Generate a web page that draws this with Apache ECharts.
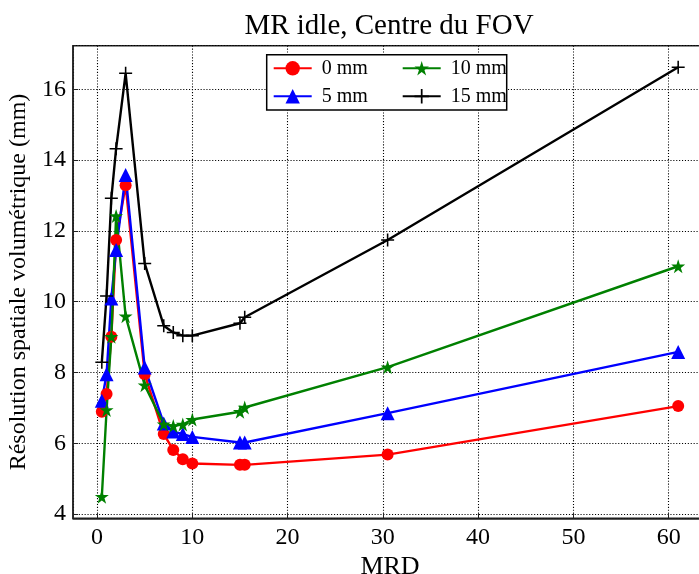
<!DOCTYPE html>
<html>
<head>
<meta charset="utf-8">
<script src="https://cdn.jsdelivr.net/npm/echarts@6/dist/echarts.min.js"></script>
<style>html,body{margin:0;padding:0;background:#fff}#c{width:699px;height:574px}</style>
</head>
<body>
<div id="c"></div>
<script>
const mrd = [0.5, 1, 1.5, 2, 3, 5, 7, 8, 9, 10, 15, 15.5, 30.5, 61];
const res0mm  = [6.89, 7.39, 9.01, 11.74, 13.29, 7.95, 6.26, 5.81, 5.55, 5.43, 5.39, 5.39, 5.68, 7.05];
const res5mm  = [7.20, 7.95, 10.09, 11.46, 13.58, 8.14, 6.56, 6.33, 6.26, 6.18, 6.02, 6.02, 6.85, 8.58];
const res10mm = [4.49, 6.94, 9.01, 12.42, 9.59, 7.64, 6.54, 6.49, 6.53, 6.67, 6.89, 7.01, 8.15, 11.00];
const res15mm = [8.29, 10.16, 12.92, 14.32, 16.45, 11.08, 9.32, 9.13, 9.04, 9.04, 9.39, 9.56, 11.74, 16.62];
const seriesNames = ['0 mm', '5 mm', '10 mm', '15 mm'];

const FONT = 'Liberation Serif';
const STAR = 'path://M0,-1 L0.223,-0.307 L0.951,-0.309 L0.361,0.117 L0.588,0.809 L0,0.38 L-0.588,0.809 L-0.361,0.117 L-0.951,-0.309 L-0.223,-0.307 Z';
const PLUS = 'path://M-0.12,-1 L0.12,-1 L0.12,-0.12 L1,-0.12 L1,0.12 L0.12,0.12 L0.12,1 L-0.12,1 L-0.12,0.12 L-1,0.12 L-1,-0.12 L-0.12,-0.12 Z';

function pairs(ys) { return mrd.map((x, i) => [x, ys[i]]); }

function mk(name, ys, color, symbol, size) {
  return {
    name: name, type: 'line', data: pairs(ys),
    symbol: symbol, symbolSize: size, showSymbol: true,
    lineStyle: { color: color, width: 2.4 },
    itemStyle: { color: color, borderWidth: 0 },
    emphasis: { disabled: true },
    animation: false
  };
}

const chart = echarts.init(document.getElementById('c'), null, { renderer: 'canvas' });
const legendText = { fontFamily: FONT, fontSize: 20, color: '#000', lineHeight: 18, padding: [0, 0, 0, 5] };
const gridDots = { color: '#000', width: 1.1, type: [1.1, 1.8] };
chart.setOption({
  animation: false,
  backgroundColor: '#fff',
  title: {
    text: 'MR idle, Centre du FOV',
    left: 384, top: 7, textAlign: 'center',
    textStyle: { fontFamily: FONT, fontSize: 29, fontWeight: 'normal', color: '#000' }
  },
  grid: { left: 73, top: 45.7, width: 634, height: 472.6, outerBoundsMode: 'none', containLabel: false,
          show: true, borderColor: '#222', borderWidth: 1.5, backgroundColor: 'transparent' },
  xAxis: {
    type: 'value', min: -2.525, max: 64.025, splitNumber: 7,
    name: 'MRD', nameLocation: 'middle', nameGap: 30,
    nameTextStyle: { fontFamily: FONT, fontSize: 26, color: '#000' },
    axisLine: { show: true, onZero: false, lineStyle: { color: '#222', width: 1.5 } },
    axisTick: { show: true, inside: true, length: 5, lineStyle: { color: '#222' } },
    axisLabel: { fontFamily: FONT, fontSize: 24, color: '#000', margin: 7, showMinLabel: false, showMaxLabel: false },
    splitLine: { show: true, lineStyle: gridDots }
  },
  yAxis: {
    type: 'value', min: 3.88, max: 17.23, splitNumber: 7,
    name: 'Résolution spatiale volumétrique (mm)', nameLocation: 'middle', nameGap: 38,
    nameTextStyle: { fontFamily: FONT, fontSize: 24, color: '#000' },
    axisLine: { show: true, onZero: false, lineStyle: { color: '#222', width: 1.5 } },
    axisTick: { show: true, inside: true, length: 5, lineStyle: { color: '#222' } },
    axisLabel: { fontFamily: FONT, fontSize: 24, color: '#000', margin: 7, showMinLabel: false, showMaxLabel: false },
    splitLine: { show: true, lineStyle: gridDots }
  },
  graphic: [{
    type: 'rect', z: 3,
    shape: { x: 266.7, y: 54.7, width: 240, height: 55.3 },
    style: { fill: '#fff', stroke: '#000', lineWidth: 1.5 }
  }],
  legend: [
    { data: [seriesNames[0], seriesNames[1]], orient: 'vertical', left: 272.7, top: 58.3, padding: 0,
      itemWidth: 38, itemHeight: 18, itemGap: 8, z: 5, textStyle: legendText, selectedMode: false },
    { data: [seriesNames[2], seriesNames[3]], orient: 'vertical', left: 401.7, top: 58.3, padding: 0,
      itemWidth: 38, itemHeight: 18, itemGap: 8, z: 5, textStyle: legendText, selectedMode: false }
  ],
  series: [
    mk(seriesNames[0], res0mm, '#ff0000', 'circle', 12),
    mk(seriesNames[1], res5mm, '#0000ff', 'triangle', 14),
    mk(seriesNames[2], res10mm, '#008000', STAR, 14),
    mk(seriesNames[3], res15mm, '#000000', PLUS, 13)
  ]
});
</script>
</body>
</html>
